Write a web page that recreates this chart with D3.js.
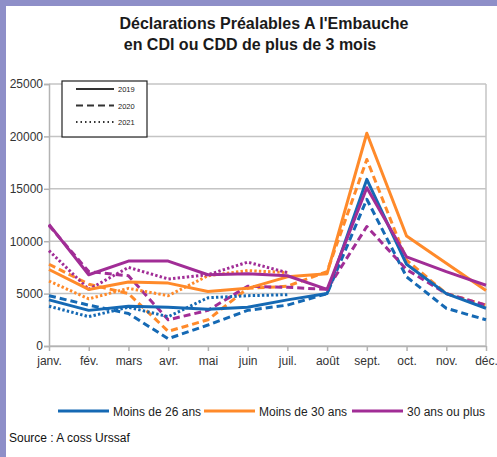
<!DOCTYPE html>
<html>
<head>
<meta charset="utf-8">
<script src="https://cdn.jsdelivr.net/npm/d3@7"></script>
<style>
  body { margin: 0; background: #fff; }
  svg { display: block; }
  text { font-family: "Liberation Sans", Arial, sans-serif; }
</style>
</head>
<body>
<svg id="chart" width="497" height="457"></svg>
<script>
var months = ["janv.", "fév.", "mars", "avr.", "mai", "juin", "juil.", "août", "sept.", "oct.", "nov.", "déc."];
var yTicks = [0, 5000, 10000, 15000, 20000, 25000];
var groups = ["Moins de 26 ans", "Moins de 30 ans", "30 ans ou plus"];
var years = ["2019", "2020", "2021"];

// Moins de 26 ans
var moins26_2019 = [4400, 3400, 3800, 3700, 3500, 3700, 4400, 5000, 15900, 7800, 5000, 3600];
var moins26_2020 = [4800, 3900, 3100, 700, 2000, 3400, 3900, 5000, 14000, 6600, 3600, 2500];
var moins26_2021 = [3800, 2800, 3700, 2800, 4600, 4800, 4900];
// Moins de 30 ans
var moins30_2019 = [7300, 5400, 6100, 6000, 5200, 5500, 6600, 6900, 20300, 10500, 7900, 5300];
var moins30_2020 = [7800, 5900, 5000, 1400, 2500, 5500, 5700, 7100, 17800, 8200, 5000, 3900];
var moins30_2021 = [6200, 4500, 5500, 4800, 6700, 7200, 7000];
// 30 ans ou plus
var plus30_2019 = [11600, 6800, 8100, 8100, 6800, 6900, 6700, 5400, 15100, 8500, 7100, 5800];
var plus30_2020 = [11500, 7100, 6700, 2500, 3400, 5700, 5600, 5400, 11400, 7300, 5000, 3900];
var plus30_2021 = [9100, 5400, 7500, 6400, 6800, 8000, 7000];

var colors = ["#1569b4", "#ff8a2a", "#a12d96"];
var dashes = [null, "7,4", "2.4,2.2"];

var series = [
    {group: 0, year: 1, values: moins26_2020},
    {group: 1, year: 1, values: moins30_2020},
    {group: 2, year: 1, values: plus30_2020},
    {group: 0, year: 2, values: moins26_2021},
    {group: 1, year: 2, values: moins30_2021},
    {group: 2, year: 2, values: plus30_2021},
    {group: 0, year: 0, values: moins26_2019},
    {group: 1, year: 0, values: moins30_2019},
    {group: 2, year: 0, values: plus30_2019}
];

var svg = d3.select("#chart");

// cadre violet
svg.append("rect").attr("x", 0).attr("y", 0).attr("width", 497).attr("height", 6).attr("fill", "#8e8fc8");
svg.append("rect").attr("x", 0).attr("y", 0).attr("width", 6).attr("height", 457).attr("fill", "#8e8fc8");

var plotLeft = 49, plotRight = 486, plotTop = 84, plotBottom = 346;

var x = d3.scalePoint().domain(months).range([plotLeft, plotRight]);
var y = d3.scaleLinear().domain([0, 25000]).range([plotBottom, plotTop]);

// titre
svg.append("text").attr("x", 264).attr("y", 29).attr("text-anchor", "middle")
    .attr("font-weight", "bold").attr("font-size", 16).attr("fill", "#1a1a1a")
    .text("Déclarations Préalables A l'Embauche");
svg.append("text").attr("x", 250).attr("y", 50).attr("text-anchor", "middle")
    .attr("font-weight", "bold").attr("font-size", 16).attr("fill", "#1a1a1a")
    .text("en CDI ou CDD de plus de 3 mois");

// grille
svg.append("g").selectAll("line").data(yTicks).join("line")
    .attr("x1", plotLeft).attr("x2", plotRight)
    .attr("y1", d => y(d)).attr("y2", d => y(d))
    .attr("stroke", "#c4c4c4").attr("stroke-width", 1.5);

svg.append("line").attr("x1", plotRight).attr("x2", plotRight).attr("y1", plotTop).attr("y2", plotBottom)
    .attr("stroke", "#c4c4c4").attr("stroke-width", 1.5);

// axe y
var yAxis = svg.append("g")
    .attr("transform", "translate(" + plotLeft + ",0)")
    .call(d3.axisLeft(y).tickValues(yTicks).tickSize(5).tickFormat(d3.format("d")));
yAxis.select(".domain").attr("stroke", "#b3b3b3").attr("stroke-width", 1.5);
yAxis.selectAll(".tick line").attr("stroke", "#b3b3b3").attr("stroke-width", 1.5);
yAxis.selectAll("text").attr("font-size", 12).attr("fill", "#333").attr("font-family", null).attr("x", -6);

// axe x
var xAxis = svg.append("g")
    .attr("transform", "translate(0," + plotBottom + ")")
    .call(d3.axisBottom(x).tickSize(5).tickSizeOuter(0));
xAxis.select(".domain").attr("stroke", "#b3b3b3").attr("stroke-width", 1.5);
xAxis.selectAll(".tick line").attr("stroke", "#b3b3b3").attr("stroke-width", 1.5);
xAxis.selectAll("text").attr("font-size", 12).attr("fill", "#333").attr("font-family", null).attr("dy", "0.95em");

// courbes
var line = d3.line().x((d, i) => x(months[i])).y(d => y(d));

svg.append("g").selectAll("path").data(series).join("path")
    .attr("d", d => line(d.values))
    .attr("fill", "none")
    .attr("stroke", d => colors[d.group])
    .attr("stroke-width", 3)
    .attr("stroke-linejoin", "round")
    .attr("stroke-dasharray", d => dashes[d.year]);

// légende des années
var lg = svg.append("g");
lg.append("rect").attr("x", 62).attr("y", 81).attr("width", 85).attr("height", 56)
    .attr("fill", "#fff").attr("stroke", "#222").attr("stroke-width", 1.2);
years.forEach(function(yr, i) {
    var yy = 89 + i * 16.5;
    lg.append("line").attr("x1", 76).attr("x2", 114).attr("y1", yy).attr("y2", yy)
        .attr("stroke", "#333").attr("stroke-width", 2).attr("stroke-dasharray", i == 0 ? null : (i == 1 ? "7,4" : "1.5,3"));
    lg.append("text").attr("x", 118).attr("y", yy + 3).attr("font-size", 7.5).attr("fill", "#222").text(yr);
});

// légende des groupes
var legX = [58, 204, 352];
var lg2 = svg.append("g");
groups.forEach(function(g, i) {
    lg2.append("line").attr("x1", legX[i]).attr("x2", legX[i] + 51).attr("y1", 411).attr("y2", 411)
        .attr("stroke", colors[i]).attr("stroke-width", 3);
    lg2.append("text").attr("x", legX[i] + 55).attr("y", 415.5).attr("font-size", 12).attr("fill", "#222").text(g);
});

svg.append("text").attr("x", 9).attr("y", 442)
    .attr("font-size", 12).attr("fill", "#111").text("Source : A coss Urssaf");
</script>
</body>
</html>
